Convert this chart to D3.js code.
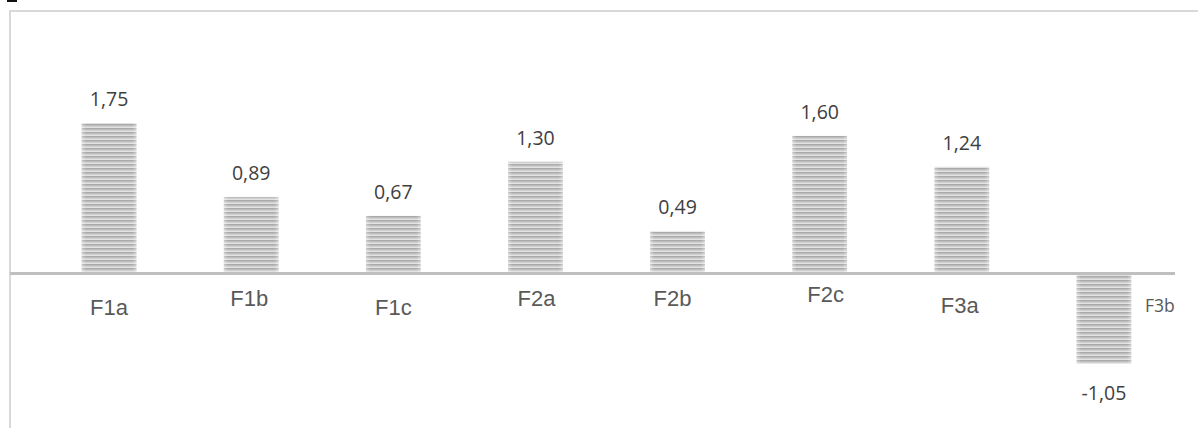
<!DOCTYPE html>
<html><head><meta charset="utf-8">
<script src="https://cdn.jsdelivr.net/npm/d3@7"></script>
<style>html,body{margin:0;padding:0;background:#fff;}</style>
</head><body><svg id="c" width="1198" height="428"></svg>
<script>
const categories = ["F1a","F1b","F1c","F2a","F2b","F2c","F3a","F3b"];
const values = [1.75,0.89,0.67,1.30,0.49,1.60,1.24,-1.05];
const valueLabels = ["1,75","0,89","0,67","1,30","0,49","1,60","1,24","-1,05"];

// layout tweaks (label offsets as in the reference)
const catDy = [34, 25, 34, 25, 25, 21, 32, 0];
const catDx = [0, -2, 0, 1, -5, 6, -2, 56];

const svg = d3.select("#c");
const W = 1198, H = 428;

// frame
svg.append("rect").attr("x",7).attr("y",0).attr("width",10).attr("height",2).attr("fill","#111");
svg.append("line").attr("x1",9).attr("x2",W).attr("y1",11).attr("y2",11).attr("stroke","#d9d9d9").attr("stroke-width",2);
svg.append("line").attr("x1",10).attr("x2",10).attr("y1",10).attr("y2",H).attr("stroke","#d9d9d9").attr("stroke-width",2);

// pattern
const defs = svg.append("defs");
const pat = defs.append("pattern").attr("id","stripes").attr("patternUnits","userSpaceOnUse")
  .attr("width",8).attr("height",4);
pat.append("rect").attr("width",8).attr("height",4).attr("fill","#cfcfcf");
pat.append("rect").attr("y",0).attr("width",8).attr("height",1).attr("fill","#aaaaaa");
pat.append("rect").attr("y",1).attr("width",8).attr("height",1).attr("fill","#bdbdbd");
pat.append("rect").attr("y",3).attr("width",8).attr("height",1).attr("fill","#e2e2e2");
const grad = defs.append("linearGradient").attr("id","edge").attr("x1","0").attr("x2","1");
grad.append("stop").attr("offset","0").attr("stop-color","#fff").attr("stop-opacity",0.35);
grad.append("stop").attr("offset","0.08").attr("stop-color","#fff").attr("stop-opacity",0);
grad.append("stop").attr("offset","0.92").attr("stop-color","#fff").attr("stop-opacity",0);
grad.append("stop").attr("offset","1").attr("stop-color","#fff").attr("stop-opacity",0.35);

const x = d3.scaleBand().domain(categories).range([38, 1175]).paddingInner(0.615).paddingOuter(0.3075);
const y = d3.scaleLinear().domain([0, 1.75]).range([273.5, 123]);
const y0 = y(0);

const bars = svg.append("g");
categories.forEach((c,i)=>{
  const v = values[i];
  const top = Math.min(y(v), y0), h = Math.abs(y(v)-y0);
  bars.append("rect").attr("x",x(c)).attr("y",top).attr("width",x.bandwidth()).attr("height",h).attr("fill","url(#stripes)");
  bars.append("rect").attr("x",x(c)).attr("y",top).attr("width",x.bandwidth()).attr("height",h).attr("fill","url(#edge)");
});

// zero axis
svg.append("line").attr("x1",10).attr("x2",1175).attr("y1",y0).attr("y2",y0)
  .attr("stroke","#bfbfbf").attr("stroke-width",3);

// value labels
categories.forEach((c,i)=>{
  const v = values[i];
  const cx = x(c)+x.bandwidth()/2;
  svg.append("text").attr("x",cx).attr("y", v>=0 ? y(v)-17 : y(v)+36)
    .attr("text-anchor","middle").attr("font-family","'Open Sans', sans-serif").attr("font-size",19.5)
    .attr("fill","#404040").text(valueLabels[i]);
});

// category labels
categories.forEach((c,i)=>{
  const cx = x(c)+x.bandwidth()/2 + catDx[i];
  const last = i === categories.length-1;
  svg.append("text").attr("x",cx).attr("y", last ? y0+38 : y0+catDy[i]+7)
    .attr("text-anchor","middle")
    .attr("font-family", last ? "'Open Sans', sans-serif" : "'Liberation Sans', Arial, sans-serif")
    .attr("font-size", last ? 17.5 : 22)
    .attr("fill","#595959").text(c);
});
</script></body></html>
